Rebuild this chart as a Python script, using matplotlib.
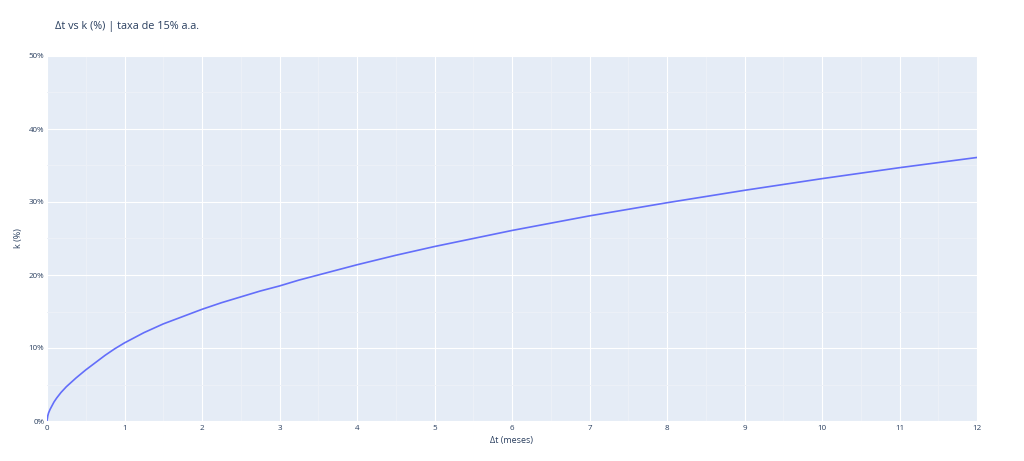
import matplotlib
matplotlib.use("Agg")
import matplotlib.pyplot as plt
from matplotlib.ticker import MultipleLocator, FuncFormatter

# valores: Δt em meses, k em %
delta_t = [0, 0.01, 0.02, 0.04, 0.065, 0.09, 0.125, 0.18, 0.25, 0.375, 0.5,
           0.625, 0.75, 0.875, 1, 1.25, 1.5, 1.75, 2, 2.25, 2.5, 2.75,
           3, 3.25, 3.5, 3.75, 4, 4.5, 5, 5.5, 6, 7, 8, 9, 10, 11, 12]
k_pct = [0, 0.7, 1.1, 1.6, 2.1, 2.6, 3.15, 3.9, 4.7, 5.9, 7.0,
         8.0, 9.0, 9.9, 10.7, 12.1, 13.3, 14.3, 15.3, 16.2, 17.0, 17.8,
         18.5, 19.3, 20.0, 20.7, 21.4, 22.7, 23.9, 25.0, 26.1, 28.1, 29.9,
         31.6, 33.2, 34.7, 36.1]

title = "Δt vs k (%) | taxa de 15% a.a."
x_label = "Δt (meses)"
y_label = "k (%)"

plt.rcParams["font.family"] = ["Open Sans", "DejaVu Sans"]
txt = "#2a3f5f"

W, H = 1024, 461
fig = plt.figure(figsize=(W / 100, H / 100), dpi=100)
ax = fig.add_axes([47 / W, 1 - 421 / H, (977 - 47) / W, (421 - 56) / H])
ax.set_facecolor("#E5ECF6")

ax.plot(delta_t, k_pct, color="#636EFA", linewidth=1.2, zorder=3)

ax.set_xlim(0, 12)
ax.set_ylim(0, 50)
ax.xaxis.set_major_locator(MultipleLocator(1))
ax.xaxis.set_minor_locator(MultipleLocator(0.5))
ax.yaxis.set_major_locator(MultipleLocator(10))
ax.yaxis.set_minor_locator(MultipleLocator(5))
ax.yaxis.set_major_formatter(FuncFormatter(lambda v, _: f"{v:.0f}%"))

ax.grid(which="major", color="white", linewidth=0.8, zorder=1)
ax.grid(which="minor", color="#EDF1F8", linewidth=0.7, zorder=1)
ax.set_axisbelow(True)
for s in ax.spines.values():
    s.set_visible(False)
ax.tick_params(which="both", length=0, labelsize=5.8, colors=txt)
ax.tick_params(axis="x", pad=3)
ax.tick_params(axis="y", pad=2)

ax.set_xlabel(x_label, fontsize=6.5, color=txt)
ax.set_ylabel(y_label, fontsize=6.5, color=txt)
ax.xaxis.set_label_coords(0.5, -(440 - 421) / (421 - 56), transform=ax.transAxes)
ax.yaxis.set_label_coords(-(47 - 19) / (977 - 47), 0.5, transform=ax.transAxes)
ax.xaxis.label.set_va("center")
ax.yaxis.label.set_va("center")

fig.text(55 / W, 1 - 26 / H, title, fontsize=7.8, color=txt, va="center", ha="left")

fig.savefig("out.png", dpi=100)
